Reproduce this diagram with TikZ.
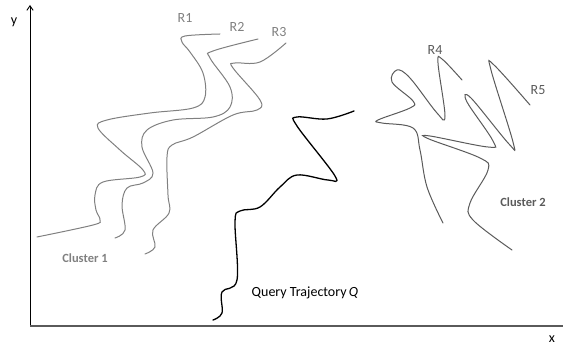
\documentclass[tikz,border=0pt]{standalone}
\usepackage{fontspec}
\setmainfont{Carlito}
\usetikzlibrary{arrows.meta}

\definecolor{lightgr}{RGB}{128,128,128}
\definecolor{darkgr}{RGB}{90,90,90}

\begin{document}
\begin{tikzpicture}[x=1pt,y=-1pt,
    traj/.style={line width=1pt,line cap=round,smooth,tension=0.6},
    lbl/.style={font=\fontsize{14}{16}\selectfont,inner sep=0pt},
    clbl/.style={font=\fontsize{12.5}{14}\selectfont\bfseries,inner sep=0pt}]
  \useasboundingbox (0,0) rectangle (563,347);
  % axes
  \coordinate (orig) at (30,326);
  \coordinate (ytop) at (30,5);
  \coordinate (xend) at (563,326);
  \draw[line width=0.9pt,-{Straight Barb[length=1.6mm,width=2.2mm]}] (orig)--(ytop);
  \draw[line width=1.6pt,darkgr] (orig)--(xend);
  \node[lbl] (ylab) at (14,22) {y};
  \node[lbl] (xlab) at (552,339) {x};
  % cluster 1
  \draw[traj,lightgr] plot coordinates {(220,34) (185,36) (182,42) (190,52) (203,73) (205,97)
    (193,108) (150,113) (107,120) (98,128) (120,150) (143,170) (140,177) (103,182)
    (95,195) (96,210) (100,220) (93,225) (37,237)};
  \draw[traj,lightgr] plot coordinates {(258,39) (213,51) (210,58) (230,87) (230,107)
    (213,117) (173,120) (147,130) (142,147) (153,173) (143,183) (127,188) (122,205)
    (125,230) (115,238)};
  \draw[traj,lightgr] plot coordinates {(286,43) (260,62) (235,63) (233,68) (260,100)
    (257,110) (233,115) (193,137) (172,145) (167,157) (168,195) (169,213) (153,230)
    (155,247) (145,254)};
  \node[lbl,lightgr] (r1) at (185,18) {R1};
  \node[lbl,lightgr] (r2) at (237,27) {R2};
  \node[lbl,lightgr] (r3) at (279,32) {R3};
  \node[clbl,lightgr] (c1) at (85,258) {Cluster 1};
  % query
  \draw[traj,line width=1.3pt,black] plot coordinates {(354,111) (327,119) (297,117) (297,126)
    (335,176) (328,180) (297,175) (280,187) (260,207) (240,211) (235,222) (237,280)
    (222,292) (222,313) (213,320)};
  \node[lbl] (qlab) at (305,293) {Query Trajectory\,\textit{Q}};
  % cluster 2
  \draw[traj,darkgr] plot coordinates {(462,80) (442,59) (438,63) (445,116) (437,113)
    (410,78) (397,70) (392,82) (413,101) (410,108) (378,120) (382,123) (413,128)
    (420,150) (427,187) (443,223)};
  \draw[traj,darkgr] plot coordinates {(530,105) (494,65) (491,70) (513,142) (509,144)
    (471,98) (467,102) (493,141) (488,147) (430,136) (429,139) (480,158) (488,170)
    (470,203) (473,220) (512,250)};
  \node[lbl,darkgr] (r4) at (435,50) {R4};
  \node[lbl,darkgr] (r5) at (538,90) {R5};
  \node[clbl,darkgr] (c2) at (523,202) {Cluster 2};
\end{tikzpicture}
\end{document}
